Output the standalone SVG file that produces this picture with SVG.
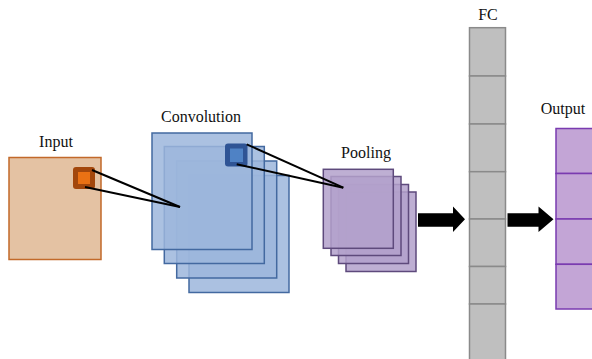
<svg xmlns="http://www.w3.org/2000/svg" width="592" height="359" viewBox="0 0 592 359">
<style>
text{font-family:"Liberation Serif","Times New Roman",serif;font-size:16px;fill:#111;text-anchor:middle}
.conv{fill:#9cb6dc;fill-opacity:0.85;stroke:#4369a0;stroke-width:1.5}
.pool{fill:#b3a1cb;fill-opacity:0.85;stroke:#5e4a7c;stroke-width:1.5}
.fc{fill:#bfbfbf;stroke:#8a8a8a;stroke-width:1.5}
.out{fill:#c3a5d6;stroke:#7a3bb0;stroke-width:1.5}
.ln{stroke:#000;stroke-width:2;fill:none}
.arr{fill:#000}
</style>
<rect width="592" height="359" fill="#fff"/>
<g id="input">
<text x="56" y="147">Input</text>
<rect x="9" y="157.5" width="92" height="102" fill="#e4c2a3" stroke="#c2692a" stroke-width="1.5"/>
<rect x="73" y="167" width="22" height="22" rx="3" fill="#a3470c"/>
<rect x="78" y="172" width="12" height="12" fill="#ea7114"/>
</g>
<g id="convolution">
<text x="201" y="122">Convolution</text>
<rect class="conv" x="189" y="175.5" width="100" height="117"/>
<rect class="conv" x="176.7" y="161" width="100" height="117"/>
<rect class="conv" x="164.3" y="146.5" width="100" height="117"/>
<rect class="conv" x="152" y="133" width="100" height="116.5"/>
<rect x="225" y="143.5" width="22.5" height="23" rx="3" fill="#2f5495"/>
<rect x="230" y="148.5" width="13" height="13.5" fill="#4f82c5"/>
</g>
<g id="pooling">
<text x="366" y="158">Pooling</text>
<rect class="pool" x="346" y="192" width="70" height="79.5"/>
<rect class="pool" x="338.5" y="184.5" width="70" height="79"/>
<rect class="pool" x="331" y="176.5" width="70" height="79"/>
<rect class="pool" x="323.3" y="169.3" width="70" height="79"/>
</g>
<g id="fc">
<text x="488" y="20">FC</text>
<rect class="fc" x="469.5" y="27.7" width="36" height="48.3"/>
<rect class="fc" x="469.5" y="76" width="36" height="48"/>
<rect class="fc" x="469.5" y="124" width="36" height="47.7"/>
<rect class="fc" x="469.5" y="171.7" width="36" height="47.3"/>
<rect class="fc" x="469.5" y="219" width="36" height="47.5"/>
<rect class="fc" x="469.5" y="266.5" width="36" height="37.5"/>
<rect class="fc" x="469.5" y="304" width="36" height="60"/>
</g>
<g id="output">
<text x="563" y="114">Output</text>
<rect class="out" x="556" y="128.5" width="50" height="45"/>
<rect class="out" x="556" y="173.5" width="50" height="45.5"/>
<rect class="out" x="556" y="219" width="50" height="45.3"/>
<rect class="out" x="556" y="264.3" width="50" height="44.7"/>
</g>
<g id="connectors">
<line class="ln" x1="92" y1="170" x2="180" y2="207"/>
<line class="ln" x1="85" y1="187" x2="180" y2="207"/>
<line class="ln" x1="246.7" y1="144.3" x2="343.3" y2="187.7"/>
<line class="ln" x1="236.7" y1="164.3" x2="343.3" y2="187.7"/>
<polygon class="arr" points="418,213.3 453,213.3 453,206.5 465,219.3 453,232 453,226.7 418,226.7"/>
<polygon class="arr" points="507.5,213.3 538.5,213.3 538.5,206.5 553.5,219.3 538.5,232 538.5,226.7 507.5,226.7"/>
</g>
</svg>
